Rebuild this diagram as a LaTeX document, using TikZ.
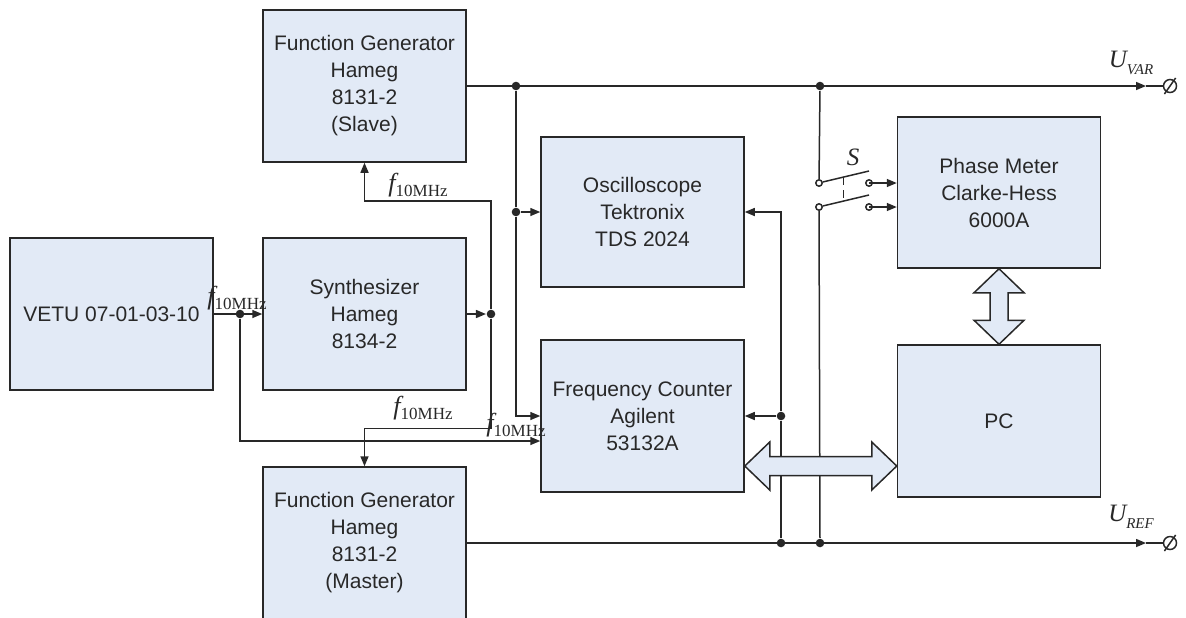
\documentclass[tikz,border=0pt]{standalone}
\usepackage{fontspec}
\setmainfont{Liberation Sans}
\newfontfamily\timesfont{Liberation Serif}
\usetikzlibrary{arrows.meta,calc}

\definecolor{boxfill}{RGB}{226,234,246}
\definecolor{wire}{RGB}{40,40,40}

\newcommand{\freqlbl}{{\timesfont\fontsize{13}{14}\selectfont\itshape f}\raisebox{-2.5pt}{\timesfont\fontsize{8.5}{9}\selectfont 10MHz}}
\newcommand{\voltlbl}[1]{{\timesfont\fontsize{12.5}{14}\selectfont\itshape U}\raisebox{-3.5pt}{\timesfont\fontsize{7.5}{8}\selectfont\itshape #1}}

\tikzset{every picture/.style={line width=0.75pt}}
\tikzset{
  box/.style={draw=wire, fill=boxfill, align=center, minimum width=101.5pt, minimum height=76pt, inner sep=0.75pt, font=\fontsize{10.5}{13.5}\selectfont},
  dot/.style={circle, fill=wire, inner sep=0pt, minimum size=4.3pt},
  contact/.style={circle, draw=wire, fill=white, inner sep=0pt, minimum size=3.2pt},
  term/.style={circle, draw=wire, inner sep=0pt, minimum size=6.5pt},
  lbl/.style={inner sep=0.75pt},
  bus/.style={draw=wire, fill=boxfill, line join=miter},
  >={Triangle[length=5pt,width=4pt]}
}

\begin{document}
\begin{tikzpicture}[x=0.5pt,y=0.5pt,yscale=-1,xscale=1,color=wire]
\clip (0,0) rectangle (1186,617);

% Blocks
\node[box] (slave) at (364.5,86) {Function Generator\\Hameg\\8131-2\\(Slave)};
\node[box] (vetu) at (111.5,314) {VETU 07-01-03-10};
\node[box] (synth) at (364.5,314) {Synthesizer\\Hameg\\8134-2};
\node[box] (master) at (364.5,543) {Function Generator\\Hameg\\8131-2\\(Master)};
\node[box, minimum height=75pt] (osc) at (642.5,212) {Oscilloscope\\Tektronix\\TDS 2024};
\node[box] (fc) at (642.5,416) {Frequency Counter\\Agilent\\53132A};
\node[box, minimum height=75.5pt] (phase) at (999,192.5) {Phase Meter\\Clarke-Hess\\6000A};
\node[box] (pc) at (999,421) {PC};

% Junctions
\node[dot] (jv) at (240,314) {};
\node[dot] (js) at (491,314) {};
\node[dot] (jvar1) at (516,86) {};
\node[dot] (jvar2) at (820,86) {};
\node[dot] (josc) at (516,212) {};
\node[dot] (jfc) at (781,416) {};
\node[dot] (jref1) at (781,543) {};
\node[dot] (jref2) at (820,543) {};

% Output terminals
\node[term] (varT) at (1170,86) {};
\node[term] (refT) at (1170,543) {};
\coordinate (varA) at (1146,86);
\coordinate (refA) at (1146,543);

% Switch S
\node[contact] (sw1a) at (819,183) {};
\node[contact] (sw2a) at (819,207) {};
\node[contact, fill=none] (sw1b) at (869,183) {};
\node[contact, fill=none] (sw2b) at (869,207) {};

% 10 MHz reference distribution
\draw[->] (vetu.east) -- (synth.west);
\draw[->] (jv) |- ($(fc.west)+(0,25)$);
\draw[->] (synth.east) -- (js);
\draw[->] (js) |- ($(slave.south)+(0,38)$) -- (slave.south);
\draw[->] (js) |- ($(master.north)+(0,-38)$) -- (master.north);

% U_VAR line
\draw[->] (slave.east) -- (varA);
\draw (varA) -- (varT);
\draw ($(varT.center)!1.35!(varT.235)$) -- ($(varT.center)!1.35!(varT.55)$);
\draw (jvar1) -- (josc);
\draw[->] (josc) -- (osc.west);
\draw[->] (josc) |- (fc.west);

% U_REF line
\draw[->] (master.east) -- (refA);
\draw (refA) -- (refT);
\draw ($(refT.center)!1.35!(refT.235)$) -- ($(refT.center)!1.35!(refT.55)$);
\draw (jref1) -- (jfc);
\draw[->] (jfc) -- (fc.east);
\draw[->] (jfc) |- (osc.east);

% Switch
\draw (jvar2) -- (sw1a);
\draw (sw2a) -- (jref2);
\draw (sw1a.15) -- ($(sw1b)+(0,-12)$) coordinate (b1);
\draw (sw2a.15) -- ($(sw2b)+(0,-12)$) coordinate (b2);
\draw[dash pattern=on 4pt off 2.5pt] ($(sw1a.15)!0.45!(b1)$) -- ($(sw2a.15)!0.45!(b2)$);
\draw[->] (sw1b.center) -- (sw1b.center -| phase.west);
\draw[->] (sw2b.center) -- (sw2b.center -| phase.west);

% Bus arrows
\coordinate (bl) at ($(fc.east)+(0,50)$);
\coordinate (br) at (bl -| pc.west);
\draw[bus] (bl) -- ++(25,-24) -- ++(0,14.5) -- ($(br)+(-25,-9.5)$) -- ++(0,-14.5) -- (br) -- ++(-25,24) -- ++(0,-14.5) -- ($(bl)+(25,9.5)$) -- ++(0,14.5) -- cycle;
\draw[bus] (phase.south) -- ++(25,24) -- ++(-16,0) -- ($(pc.north)+(9,-24)$) -- ++(16,0) -- (pc.north) -- ++(-25,-24) -- ++(16,0) -- ($(phase.south)+(-9,24)$) -- ++(-16,0) -- cycle;

% Text Node
\node[lbl] (f1) at (237,298) {\freqlbl};
\node[lbl] (f2) at (418,185) {\freqlbl};
\node[lbl] (f3) at (423,408) {\freqlbl};
\node[lbl] (f4) at (516,425) {\freqlbl};
\node[lbl] (slbl) at (853,157) {\timesfont\fontsize{12.5}{14}\selectfont\itshape S};
\node[lbl] (uvar) at (1131,63) {\voltlbl{VAR}};
\node[lbl] (uref) at (1131,517) {\voltlbl{REF}};

\end{tikzpicture}
\end{document}
